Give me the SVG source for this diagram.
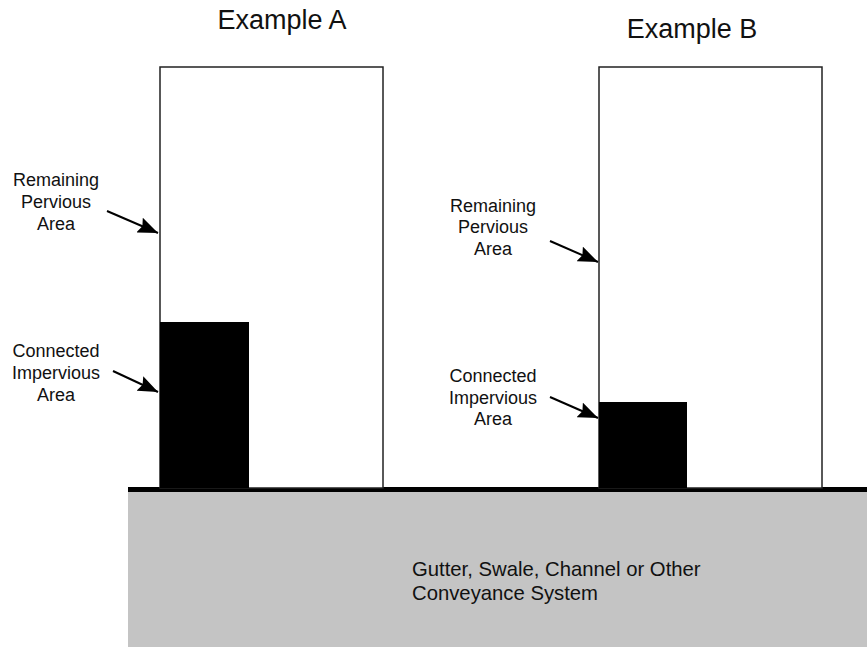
<svg xmlns="http://www.w3.org/2000/svg" width="867" height="647" viewBox="0 0 867 647">
<style>
text{font-family:"Liberation Sans",Arial,sans-serif;fill:#111}
.title{font-size:27px;text-anchor:middle}
.lbl{font-size:18px;text-anchor:middle}
.bot{font-size:20.3px}
.bld{fill:#fff;stroke:#222;stroke-width:1.5}
.imp{fill:#000}
.arr{stroke:#000;stroke-width:2;fill:none;marker-end:url(#ah)}
</style>
<defs>
<marker id="ah" viewBox="0 0 20 16" refX="20" refY="8" markerWidth="20" markerHeight="16" markerUnits="userSpaceOnUse" orient="auto">
<path d="M0,0 L20,8 L0,16 L3,8 z" fill="#000"/>
</marker>
</defs>
<rect width="867" height="647" fill="#fff"/>
<g id="ground">
<rect x="128" y="490" width="739" height="157" fill="#c4c4c4"/>
<rect x="128" y="487" width="739" height="5" fill="#000"/>
<text class="bot" x="412" y="576">Gutter, Swale, Channel or Other</text>
<text class="bot" x="412" y="600">Conveyance System</text>
</g>
<g id="exampleA">
<text class="title" x="282" y="29">Example A</text>
<rect class="bld" x="160" y="67" width="223" height="421"/>
<rect class="imp" x="160" y="322" width="89" height="166"/>
</g>
<g id="exampleB">
<text class="title" x="692" y="38">Example B</text>
<rect class="bld" x="599" y="67" width="223" height="421"/>
<rect class="imp" x="599" y="402" width="88" height="86"/>
</g>
<g id="labelsA">
<text class="lbl" x="56" y="186">Remaining</text>
<text class="lbl" x="56" y="208">Pervious</text>
<text class="lbl" x="56" y="230">Area</text>
<text class="lbl" x="56" y="357">Connected</text>
<text class="lbl" x="56" y="379">Impervious</text>
<text class="lbl" x="56" y="401">Area</text>
</g>
<g id="labelsB">
<text class="lbl" x="493" y="212">Remaining</text>
<text class="lbl" x="493" y="233">Pervious</text>
<text class="lbl" x="493" y="255">Area</text>
<text class="lbl" x="493" y="382">Connected</text>
<text class="lbl" x="493" y="404">Impervious</text>
<text class="lbl" x="493" y="425">Area</text>
</g>
<g id="connectors">
<line class="arr" x1="107" y1="211" x2="158" y2="233"/>
<line class="arr" x1="113" y1="371" x2="158" y2="392"/>
<line class="arr" x1="550" y1="241" x2="598" y2="262"/>
<line class="arr" x1="550" y1="397" x2="598" y2="418"/>
</g>
</svg>
